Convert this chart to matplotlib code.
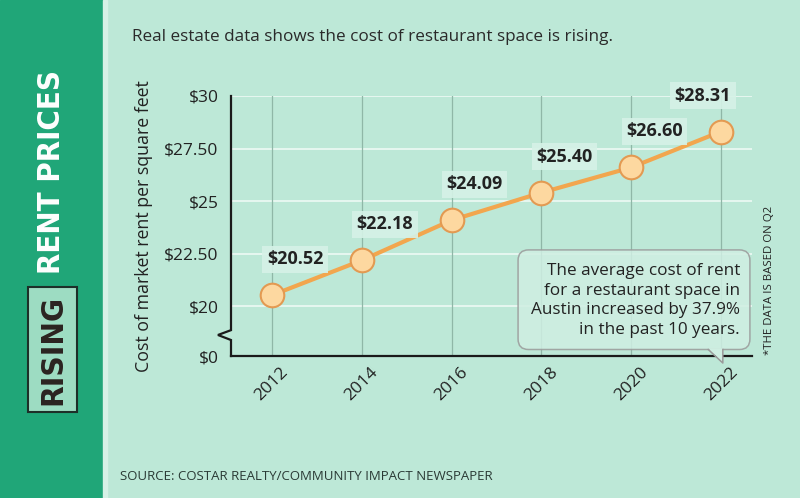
import matplotlib.pyplot as plt
from matplotlib import font_manager as fm
from matplotlib.patches import Rectangle, FancyBboxPatch, Polygon

years = [2012, 2014, 2016, 2018, 2020, 2022]
rent = [20.52, 22.18, 24.09, 25.40, 26.60, 28.31]
rent_labels = ["$20.52", "$22.18", "$24.09", "$25.40", "$26.60", "$28.31"]
ytick_values = [0, 20, 22.5, 25, 27.5, 30]
ytick_labels = ["$0", "$20", "$22.50", "$25", "$27.50", "$30"]

subtitle = "Real estate data shows the cost of restaurant space is rising."
ylabel = "Cost of market rent per square feet"
note = ("The average cost of rent\nfor a restaurant space in\n"
        "Austin increased by 37.9%\nin the past 10 years.")
side_note = "*THE DATA IS BASED ON Q2"
source = "SOURCE: COSTAR REALTY/COMMUNITY IMPACT NEWSPAPER"

MINT = "#bde8d7"
GREEN = "#20a678"
DARK = "#222222"

plt.rcParams["font.family"] = ["Open Sans", "DejaVu Sans"]

# y axis is broken between $0 and $20: $0 sits just below $20
ZERO_POS = 17.63


def ypos(v):
    return ZERO_POS if v == 0 else v


fig = plt.figure(figsize=(8, 4.98), dpi=100, facecolor=MINT)

# left title stripe
fig.patches.append(Rectangle((0, 0), 103 / 800, 1, transform=fig.transFigure,
                             color=GREEN, zorder=0))
fig.patches.append(Rectangle((103 / 800, 0), 4 / 800, 1, transform=fig.transFigure,
                             color="#d6f1e6", zorder=0))
fig.patches.append(Rectangle((28 / 800, 1 - 412 / 498), 49 / 800, 125 / 498,
                             transform=fig.transFigure, fc="#9ddcc2",
                             ec="#1d2f28", lw=1.5, zorder=1))

# pick a condensed bold font for the stripe title if one is installed
cond = None
for f in fm.fontManager.ttflist:
    if (("Narrow" in f.name or "Condensed" in f.name or f.stretch == "condensed")
            and f.weight in ("bold", 700, "heavy", 800)):
        cond = f.fname
        break
title_fp = fm.FontProperties(fname=cond) if cond else fm.FontProperties(
    family=["Roboto", "DejaVu Sans"], weight="black")

t1 = fig.text(52 / 800, 1 - 172 / 498, "RENT PRICES", rotation=90, color="white",
              ha="center", va="center", fontproperties=title_fp, fontsize=26)
t2 = fig.text(53 / 800, 1 - 350 / 498, "RISING", rotation=90, color="#2b2320",
              ha="center", va="center", fontproperties=title_fp, fontsize=26)
r = fig.canvas.get_renderer()
for t, target in ((t1, 205), (t2, 110)):
    h = t.get_window_extent(r).height
    t.set_fontsize(min(31, 26 * target / h))

fig.text(132 / 800, 1 - 37 / 498, subtitle, fontsize=12.3, color="#2a2a2a",
         va="center")
fig.text(120 / 800, 1 - 476 / 498, source, fontsize=9.5, color="#2a3a35",
         va="center")
fig.text(770 / 800, 1 - 280 / 498, side_note, rotation=90, fontsize=8.2,
         color=DARK, ha="center", va="center")

ax = fig.add_axes([231 / 800, 1 - 356 / 498, 521 / 800, 260 / 498])
ax.set_facecolor("none")
ax.set_xlim(2011.09, 2022.69)
ax.set_ylim(ZERO_POS, 30)

for v in ytick_values[1:]:
    ax.axhline(v, color="#eaf8f2", lw=1.3, zorder=1)
for yr in years:
    ax.plot([yr, yr], [ZERO_POS, 30], color="#8fb7a7", lw=0.9, zorder=1)

ax.set_yticks([ypos(v) for v in ytick_values])
ax.set_yticklabels(ytick_labels)
ax.set_xticks(years)
ax.set_xticklabels([str(y) for y in years], rotation=45, ha="center", va="top")
ax.tick_params(axis="y", length=0, pad=9, labelsize=12.5, labelcolor=DARK)
ax.tick_params(axis="x", length=0, pad=6, labelsize=12.5, labelcolor=DARK)

for s in ("top", "right", "left"):
    ax.spines[s].set_visible(False)
ax.spines["bottom"].set_color("#1a1a1a")
ax.spines["bottom"].set_linewidth(1.6)

# left spine with a break zigzag
tr = ax.get_yaxis_transform()
ax.plot([0, 0, -0.025, 0, 0], [30, 18.86, 18.63, 18.39, ZERO_POS], transform=tr,
        color="#1a1a1a", lw=1.6, clip_on=False, zorder=3,
        solid_joinstyle="miter")

ax.yaxis.set_label_coords(-0.15, 0.5)
ax.set_ylabel(ylabel, fontsize=12.8, color=DARK)

ax.plot(years, rent, color="#f2a64e", lw=3, marker="o", markersize=17,
        markerfacecolor="#fdd8a0", markeredgecolor="#e39a52",
        markeredgewidth=1.5, zorder=4, clip_on=False)

for i, (yr, v, lab) in enumerate(zip(years, rent, rent_labels)):
    last = i == len(years) - 1
    ax.annotate(lab, (yr, v), xytext=(10 if last else -5, 36),
                textcoords="offset pixels", ha="right" if last else "left",
                va="center", fontsize=13, fontweight="bold", color=DARK,
                zorder=5, annotation_clip=False,
                bbox=dict(boxstyle="square,pad=0.25", fc="#d6f2e7",
                          ec="none", alpha=0.9))

# callout box with tail
box_fc = "#cfeee2"
ax.add_patch(FancyBboxPatch((0.551, 0.025), 0.445, 0.383, transform=ax.transAxes,
                            boxstyle="round,pad=0,rounding_size=0.02",
                            mutation_aspect=2.0, fc=box_fc, ec="#9a9a9a",
                            lw=1.1, alpha=0.85, zorder=6, clip_on=False))
ax.add_patch(Polygon([(0.916, 0.03), (0.944, -0.027), (0.944, 0.03)],
                     closed=True, transform=ax.transAxes, fc=box_fc, ec="none",
                     zorder=7, clip_on=False))
ax.plot([0.916, 0.944, 0.944], [0.025, -0.027, 0.025], transform=ax.transAxes,
        color="#9a9a9a", lw=1.1, zorder=7, clip_on=False)
ax.text(0.977, 0.213, note, transform=ax.transAxes, ha="right", va="center",
        multialignment="right", fontsize=12.3, linespacing=1.3, color=DARK,
        zorder=8)

fig.savefig("out.png", dpi=100, facecolor=MINT)
